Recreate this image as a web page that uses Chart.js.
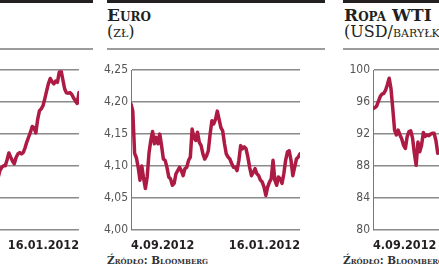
<!DOCTYPE html>
<html>
<head>
<meta charset="utf-8">
<script src="https://cdn.jsdelivr.net/npm/chart.js@4.4.1/dist/chart.umd.min.js"></script>
<style>
html, body { margin: 0; padding: 0; background: #fff; }
body { width: 439px; height: 268px; overflow: hidden; position: relative; }
.rule { position: absolute; top: 0; height: 3px; background: #231f20; }
.rule2 { position: absolute; top: 48px; height: 2px; background: #9c9c9c; }
.title { position: absolute; top: 7px; font-family: 'DejaVu Serif', serif; color: #231f20; line-height: 16px; white-space: nowrap; }
.title b { font-variant: small-caps; font-size: 17px; }
.title span { font-variant: small-caps; font-size: 16px; }
.src { position: absolute; top: 254px; font-family: 'DejaVu Serif', serif; font-variant: small-caps; font-weight: bold; font-size: 10.5px; color: #333; white-space: nowrap; }
canvas { position: absolute; }
</style>
</head>
<body>

<!-- left panel (cut off by the frame) -->
<div class="rule" style="left:0;width:93px"></div>
<div class="rule2" style="left:0;width:93px"></div>
<canvas id="leftChart" width="208" height="192" style="left:-121px;top:60px"></canvas>

<!-- middle panel -->
<div class="rule" style="left:107px;width:218px"></div>
<div class="rule2" style="left:107px;width:218px"></div>
<div class="title" style="left:107px"><b>Euro</b><br><span>(zł)</span></div>
<canvas id="euroChart" width="208" height="192" style="left:100px;top:60px"></canvas>
<div class="src" style="left:107px">Źródło: Bloomberg</div>

<!-- right panel (cut off by the frame) -->
<div class="rule" style="left:343px;width:200px"></div>
<div class="rule2" style="left:343px;width:200px"></div>
<div class="title" style="left:344px"><b>Ropa WTI</b><br><span>(USD/baryłka)</span></div>
<canvas id="wtiChart" width="208" height="192" style="left:342px;top:60px"></canvas>
<div class="src" style="left:343px">Źródło: Bloomberg</div>

<script>
// ==========================
// DATA
// ==========================
const dateLabels = ["4.09.2012", "16.01.2012"];
const sessions = 95;

// left panel, only the last part is visible
const leftTicks = [2100, 2200, 2300, 2400, 2500, 2600];
const leftValues = [2265, 2259, 2263, 2286, 2296, 2301, 2301, 2320, 2341, 2328,
    2316, 2307, 2327, 2338, 2342, 2338, 2343, 2357, 2376, 2391,
    2406, 2424, 2420, 2404, 2446, 2473, 2479, 2489, 2511, 2535,
    2558, 2574, 2564, 2557, 2566, 2562, 2593, 2600, 2571, 2542,
    2529, 2528, 2530, 2524, 2513, 2504, 2496, 2530];

// Euro (zł)
const euroTicks = [4.00, 4.05, 4.10, 4.15, 4.20, 4.25];
const euroValues = [4.197, 4.186, 4.120, 4.113, 4.098, 4.078, 4.100, 4.081, 4.065, 4.083,
    4.120, 4.140, 4.154, 4.135, 4.145, 4.135, 4.150, 4.132, 4.111, 4.109,
    4.098, 4.083, 4.080, 4.070, 4.073, 4.088, 4.093, 4.098, 4.093, 4.085,
    4.096, 4.098, 4.109, 4.114, 4.158, 4.145, 4.140, 4.153, 4.137, 4.132,
    4.119, 4.111, 4.116, 4.124, 4.150, 4.171, 4.166, 4.173, 4.186, 4.173,
    4.160, 4.155, 4.135, 4.119, 4.114, 4.111, 4.104, 4.098, 4.098, 4.093,
    4.109, 4.132, 4.127, 4.130, 4.127, 4.114, 4.098, 4.085, 4.090, 4.096,
    4.088, 4.085, 4.078, 4.075, 4.067, 4.054, 4.067, 4.075, 4.080, 4.109,
    4.078, 4.070, 4.083, 4.080, 4.073, 4.088, 4.109, 4.122, 4.124, 4.109,
    4.085, 4.098, 4.111, 4.114, 4.119];

// Ropa WTI (USD/baryłka), only the first part is visible
const wtiTicks = [80, 84, 88, 92, 96, 100];
const wtiValues = [95.2, 95.3, 95.5, 96.1, 96.7, 97.0, 97.1, 97.5, 98.2, 99.0,
    97.7, 95.2, 92.5, 91.9, 92.5, 91.9, 91.4, 90.6, 90.2, 91.7,
    92.3, 92.4, 91.5, 89.6, 88.1, 91.0, 89.8, 90.6, 92.2, 91.7,
    91.9, 91.8, 92.0, 92.1, 92.1, 91.2, 89.6];

const lineColor = "#ad1b44";
const narrow = "'Liberation Sans Narrow', 'DejaVu Sans Condensed', sans-serif";

// ==========================
// CHART
// ==========================
function makeChart(id, values, firstSession, ticks, fmt) {
    let points = values.map((v, i) => ({ x: firstSession + i, y: v }));

    new Chart(document.getElementById(id), {
        type: "line",
        data: {
            datasets: [{
                data: points,
                borderColor: lineColor,
                borderWidth: 3.5,
                borderJoinStyle: "round",
                borderCapStyle: "round",
                pointRadius: 0,
                tension: 0
            }]
        },
        options: {
            responsive: false,
            animation: false,
            layout: { padding: { top: 9, left: 0, right: 0, bottom: 0 } },
            plugins: { legend: { display: false }, tooltip: { enabled: false } },
            scales: {
                x: {
                    type: "linear",
                    min: 0,
                    max: sessions - 1,
                    grid: { display: false, drawTicks: false },
                    border: { display: false },
                    afterFit: s => { s.height = 22; },
                    afterBuildTicks: s => { s.ticks = [{ value: 0 }, { value: sessions - 1 }]; },
                    ticks: {
                        align: "inner",
                        maxRotation: 0,
                        autoSkip: false,
                        padding: 8,
                        color: "#231f20",
                        font: { family: narrow, size: 12.5, weight: "bold" },
                        callback: v => v === 0 ? dateLabels[0] : dateLabels[1]
                    }
                },
                y: {
                    min: ticks[0],
                    max: ticks[ticks.length - 1],
                    afterFit: s => { s.width = 31; },
                    afterBuildTicks: s => { s.ticks = ticks.map(t => ({ value: t })); },
                    ticks: {
                        padding: 3,
                        color: "#555",
                        font: { family: narrow, size: 12 },
                        callback: fmt
                    },
                    grid: { color: "#8a8a8a", lineWidth: 1.5, drawTicks: false },
                    border: { display: true, color: "#777", width: 1 }
                }
            }
        }
    });
}

makeChart("leftChart", leftValues, sessions - leftValues.length, leftTicks, v => v);
makeChart("euroChart", euroValues, 0, euroTicks, v => v.toFixed(2).replace(".", ","));
makeChart("wtiChart", wtiValues, 0, wtiTicks, v => v);
</script>
</body>
</html>
